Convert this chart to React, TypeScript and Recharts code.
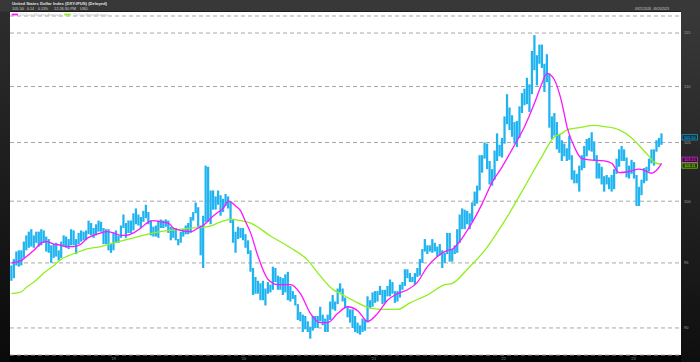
import { ComposedChart, Bar, Line, XAxis, YAxis, CartesianGrid, ReferenceLine } from "recharts";

const TITLE = "United States Dollar Index (DXY:IFUS) (Delayed)";
const QUOTE = ["105.50", "0.14", "0.13%", "12:26:30 PM", "USD"];
const DATE_RANGE = "09/21/2018 - 09/20/2023";

// week index of mid-year for each label ('19 .. '23)
const YEAR_TICKS = [40.9, 93.2, 145.4, 197.5, 249.6];
const YEAR_LABELS = ["'19", "'20", "'21", "'22", "'23"];
const PRICE_TICKS = [90, 95, 100, 105, 110, 115];

const LAST_PRICE = 105.5;
const MA50_LAST = 103.15;
const MA200_LAST = 103.11;

// weekly highs, week 0 = 09/21/2018
const HIGHS = [
  94.8, 95.3, 95.9, 96.0, 96.0, 96.7, 97.2, 97.5, 97.7, 97.2,
  97.5, 97.5, 97.7, 97.6, 97.1, 96.9, 96.4, 96.5, 96.6, 96.0,
  96.7, 97.2, 97.1, 96.9, 97.7, 97.6, 96.9, 97.4, 97.6, 97.5,
  97.6, 98.4, 98.2, 97.8, 98.1, 98.4, 98.3, 97.8, 97.7, 97.7,
  96.5, 97.4, 97.6, 97.2, 98.0, 98.9, 98.2, 98.4, 98.4, 99.0,
  99.4, 98.9, 98.7, 99.2, 99.7, 99.1, 98.4, 97.9, 98.0, 98.4,
  98.5, 98.4, 98.5, 98.4, 97.9, 97.8, 97.8, 96.9, 97.5, 97.7,
  98.0, 98.2, 98.7, 99.1, 99.9, 99.5, 98.0, 98.8, 103.0, 102.9,
  100.9, 100.9, 100.4, 100.9, 100.5, 100.2, 100.6, 100.4, 100.0, 98.5,
  97.5, 97.9, 97.8, 97.8, 97.3, 96.8, 96.0, 94.6, 93.9, 93.6,
  93.4, 93.6, 93.0, 93.5, 93.3, 94.7, 94.6, 94.0, 93.9, 93.8,
  94.1, 94.3, 93.2, 92.8, 92.5, 91.8, 91.2, 91.0, 90.9, 90.5,
  90.1, 90.9, 90.9, 90.9, 91.6, 91.0, 90.7, 91.0, 92.0, 92.5,
  92.0, 93.0, 93.4, 93.0, 92.3, 91.6, 91.4, 91.4, 90.9, 90.4,
  90.2, 90.7, 90.6, 92.4, 92.1, 92.7, 92.8, 92.8, 93.2, 92.9,
  92.9, 93.2, 93.7, 93.5, 92.8, 92.8, 93.3, 93.5, 94.5, 94.5,
  94.2, 93.9, 94.2, 94.6, 95.3, 96.1, 96.9, 96.4, 96.4, 96.9,
  96.6, 96.3, 96.5, 96.0, 95.8, 97.4, 97.4, 96.1, 96.4, 97.7,
  98.9, 99.4, 99.3, 99.2, 99.0, 99.9, 100.8, 101.3, 103.9, 103.9,
  105.0, 104.9, 103.4, 102.7, 104.3, 105.8, 104.8, 105.4, 107.3, 109.3,
  108.1, 107.4, 106.8, 106.9, 108.2, 109.4, 109.8, 110.8, 110.2, 113.3,
  114.8, 112.9, 113.9, 113.9, 112.1, 113.0, 111.2, 107.3, 107.6, 106.8,
  105.7, 105.2, 104.9, 104.5, 105.6, 103.9, 102.6, 102.3, 103.0, 103.9,
  104.7, 105.3, 105.4, 105.9, 105.1, 103.9, 103.2, 102.9, 102.1, 102.2,
  102.0, 102.2, 102.7, 103.6, 104.4, 104.7, 104.4, 103.7, 103.0, 103.5,
  103.3, 102.2, 101.2, 101.8, 102.8, 102.9, 103.6, 104.4, 104.4, 105.2,
  105.4, 105.8,
];

// weekly lows
const LOWS = [
  93.6, 93.8, 94.8, 94.7, 94.8, 95.4, 96.0, 96.2, 96.3, 96.2,
  96.6, 96.3, 96.4, 96.6, 95.9, 95.8, 95.0, 95.4, 95.5, 95.2,
  95.4, 96.3, 96.2, 96.1, 96.4, 96.4, 95.7, 96.5, 96.7, 96.8,
  96.8, 97.3, 97.2, 97.0, 97.2, 97.5, 97.5, 96.5, 96.5, 96.0,
  95.8, 96.0, 96.6, 96.6, 97.0, 97.8, 97.0, 97.4, 97.4, 97.6,
  98.1, 98.0, 97.8, 98.3, 98.6, 98.1, 97.2, 97.1, 97.1, 97.0,
  97.8, 97.8, 97.9, 97.4, 96.8, 97.0, 96.8, 96.4, 96.6, 97.1,
  97.3, 97.3, 97.4, 98.4, 99.0, 97.9, 95.6, 94.6, 98.3, 98.3,
  98.1, 99.3, 99.3, 99.7, 98.8, 99.1, 99.6, 99.4, 98.2, 96.6,
  95.8, 96.9, 97.0, 96.8, 96.2, 95.7, 94.3, 92.5, 92.6, 92.6,
  92.1, 92.1, 91.7, 92.6, 92.7, 92.9, 93.5, 92.9, 92.9, 92.5,
  92.7, 92.1, 92.0, 92.2, 91.7, 90.6, 90.5, 89.7, 89.9, 89.7,
  89.2, 89.8, 90.0, 90.0, 90.5, 90.2, 89.7, 89.7, 90.6, 91.4,
  91.3, 91.8, 92.7, 92.0, 91.5, 90.8, 90.4, 90.0, 89.7, 89.6,
  89.5, 89.7, 89.8, 90.4, 91.5, 91.6, 91.9, 92.0, 92.5, 91.8,
  91.9, 92.4, 92.4, 92.6, 91.9, 92.0, 92.3, 92.9, 93.2, 93.8,
  93.5, 93.5, 93.3, 93.9, 94.0, 95.0, 95.9, 95.7, 95.9, 95.8,
  95.9, 95.5, 95.6, 94.6, 95.0, 95.7, 95.1, 95.1, 95.7, 95.8,
  96.6, 97.7, 97.7, 98.1, 97.7, 98.3, 99.6, 99.8, 100.9, 102.4,
  103.6, 102.7, 101.4, 101.3, 101.8, 103.4, 103.8, 103.7, 104.9, 106.6,
  106.1, 105.5, 104.9, 104.6, 105.4, 107.6, 108.3, 108.4, 107.7, 109.3,
  111.5, 110.1, 112.1, 111.7, 109.5, 110.4, 106.3, 105.3, 105.6, 104.4,
  104.1, 103.4, 103.8, 103.4, 103.5, 101.8, 101.5, 101.5, 100.8, 102.6,
  102.8, 103.8, 104.3, 104.2, 103.4, 101.9, 101.9, 101.4, 100.8, 101.4,
  101.0, 100.8, 101.0, 102.3, 102.9, 103.4, 103.4, 102.0, 101.9, 102.3,
  101.9, 99.6, 99.6, 100.5, 101.5, 101.7, 102.5, 103.2, 103.0, 104.2,
  104.6, 104.8,
];

// [week, value]
const MA50 = [
  [0, 95.0], [4, 95.2], [6, 95.5], [9, 96.0], [12, 96.6], [14, 96.7], [17, 96.5], [20, 96.4],
  [22, 96.3], [25, 96.3], [28, 96.5], [30, 96.9], [33, 97.2], [36, 97.4], [38, 97.5], [41, 97.4],
  [44, 97.2], [46, 97.2], [49, 97.4], [52, 97.8], [55, 98.3], [57, 98.4], [60, 98.3], [63, 98.2],
  [65, 97.8], [68, 97.6], [72, 97.5], [75, 97.8], [77, 98.0], [80, 98.6], [83, 99.1], [85, 99.4],
  [87, 100.0], [90, 99.6], [92, 99.2], [94, 98.3], [96, 97.4], [99, 95.5], [103, 93.7], [107, 93.3],
  [112, 93.3], [116, 92.6], [120, 91.1], [124, 90.4], [127, 90.4], [131, 91.1], [135, 91.6], [139, 91.3],
  [143, 90.5], [147, 91.1], [151, 92.1], [155, 92.6], [159, 92.9], [163, 93.5], [167, 94.7], [171, 95.5],
  [175, 96.0], [177, 96.1], [183, 97.6], [189, 99.8], [193, 101.6], [197, 102.9], [201, 104.4], [206, 106.4],
  [210, 108.5], [213, 110.3], [215, 111.2], [218, 110.6], [221, 108.5], [223, 106.4], [226, 104.6], [229, 103.6],
  [232, 103.5], [238, 103.4], [241, 103.2], [244, 102.4], [248, 102.5], [252, 102.7], [254, 102.6], [257, 102.35],
  [259, 102.6], [261, 103.2],
];

const MA200 = [
  [0, 92.6], [4, 92.75], [6, 93.1], [9, 93.5], [13, 94.2], [17, 94.8], [20, 95.3], [22, 95.5],
  [26, 95.8], [30, 96.1], [36, 96.3], [41, 96.6], [47, 96.9], [52, 97.15], [57, 97.4], [63, 97.6],
  [68, 97.7], [73, 97.8], [79, 97.9], [84, 98.3], [88, 98.5], [92, 98.4], [96, 98.2], [104, 97.15],
  [112, 96.2], [119, 95.2], [123, 94.2], [128, 93.1], [134, 92.4], [139, 91.9], [144, 91.5], [150, 91.4],
  [155, 91.4], [160, 91.9], [167, 92.5], [174, 93.3], [177, 93.4], [183, 94.5], [190, 96.0], [199, 98.7],
  [206, 101.2], [213, 103.8], [218, 105.5], [221, 105.8], [223, 106.1], [228, 106.3], [234, 106.5], [238, 106.4],
  [244, 106.1], [249, 105.4], [253, 104.5], [256, 103.8], [258, 103.3], [261, 103.1],
];

const FONT = "'Liberation Sans', Arial, sans-serif";

function YearTick({ x, payload }: any) {
  const label = YEAR_LABELS[YEAR_TICKS.indexOf(payload.value)];
  return (
    <text x={x} y={359.6} textAnchor="middle" fontSize={4} fill="#8a8a8a" fontFamily={FONT}>
      {label}
    </text>
  );
}

function PriceTick({ y, payload }: any) {
  return (
    <text x={684} y={y + 1.4} fontSize={4} fill="#a0a0a0" fontFamily={FONT}>
      {payload.value}
    </text>
  );
}

// small value tag in the right axis panel
function tag(text: string, color: string, fill: string, dy: number) {
  return (props: any) => {
    const vb = props.viewBox;
    const x = vb.x + vb.width + 1;
    const y = vb.y + dy;
    return (
      <g>
        <rect x={x} y={y - 2.6} width={15.6} height={5.2} fill={fill} stroke={color} strokeWidth={0.6} />
        <text x={x + 7.8} y={y + 1.4} textAnchor="middle" fontSize={3.8} fill={color} fontFamily={FONT}>
          {text}
        </text>
      </g>
    );
  };
}

export default function App() {
  const bars = HIGHS.map((h, i) => ({ i, range: [LOWS[i], h] }));
  const ma50 = MA50.map(([i, v]) => ({ i, v }));
  const ma200 = MA200.map(([i, v]) => ({ i, v }));

  return (
    <div
      style={{
        position: "absolute",
        left: 0,
        top: 0,
        width: 700,
        height: 362,
        background: "#000",
        overflow: "hidden",
        fontFamily: FONT,
      }}
    >
      <div style={{ position: "absolute", left: 0, top: 0, width: 10, height: 362, background: "linear-gradient(#2e2e2e, #0a0a0a)" }} />
      <div style={{ position: "absolute", left: 681, top: 0, width: 19, height: 362, background: "linear-gradient(#3a3a3a, #0e0e0e)" }} />
      <div style={{ position: "absolute", left: 10, top: 11.5, width: 671, height: 343.5, background: "#fff" }} />

      <div style={{ position: "absolute", left: 0, top: 0 }}>
        <ComposedChart width={700} height={362} data={bars} margin={{ top: 16, right: 0, bottom: 0, left: 10 }}>
          <CartesianGrid vertical={false} stroke="#a8a8a8" strokeDasharray="4 3" />
          <XAxis
            dataKey="i"
            type="number"
            domain={[-0.6, 268.8]}
            allowDataOverflow
            ticks={YEAR_TICKS}
            tick={<YearTick />}
            axisLine={false}
            tickLine={false}
            height={7}
          />
          <YAxis
            orientation="right"
            scale="log"
            domain={[88, 116.64]}
            allowDataOverflow
            ticks={PRICE_TICKS}
            tick={<PriceTick />}
            axisLine={false}
            tickLine={false}
            width={19}
          />
          <Bar dataKey="range" fill="#1fb3f0" barSize={3} isAnimationActive={false} />
          <Line data={ma200} dataKey="v" type="monotone" stroke="#8ef01c" strokeWidth={1.3} dot={false} isAnimationActive={false} />
          <Line data={ma50} dataKey="v" type="monotone" stroke="#ff14ff" strokeWidth={1.3} dot={false} isAnimationActive={false} />
          <ReferenceLine y={LAST_PRICE} stroke="none" label={tag(LAST_PRICE.toFixed(2), "#2cc0f5", "#0b2f3d", 0.6)} />
          <ReferenceLine y={MA50_LAST} stroke="none" label={tag(MA50_LAST.toFixed(2), "#ff3cff", "#3a0a3a", -4.2)} />
          <ReferenceLine y={MA200_LAST} stroke="none" label={tag(MA200_LAST.toFixed(2), "#9cf028", "#263a08", 1.2)} />
        </ComposedChart>
      </div>

      <svg width={700} height={20} style={{ position: "absolute", left: 0, top: 0 }}>
        <rect x={0} y={0} width={700} height={11.5} fill="#383838" />
        <text x={12} y={4.6} fontSize={4.2} fontWeight="bold" fill="#e2e2e2" textLength={95} lengthAdjust="spacingAndGlyphs">
          {TITLE}
        </text>
        <text x={12} y={9.8} fontSize={4} fill="#d0d0d0" textLength={12} lengthAdjust="spacingAndGlyphs">{QUOTE[0]}</text>
        <text x={27} y={9.8} fontSize={4} fill="#d0d0d0" textLength={7} lengthAdjust="spacingAndGlyphs">{QUOTE[1]}</text>
        <text x={38} y={9.8} fontSize={4} fill="#d0d0d0" textLength={10} lengthAdjust="spacingAndGlyphs">{QUOTE[2]}</text>
        <text x={54} y={9.8} fontSize={4} fill="#d0d0d0" textLength={22} lengthAdjust="spacingAndGlyphs">{QUOTE[3]}</text>
        <text x={80} y={9.8} fontSize={4} fill="#d0d0d0" textLength={8} lengthAdjust="spacingAndGlyphs">{QUOTE[4]}</text>
        <text x={635} y={10} fontSize={3.8} fill="#d0d0d0" textLength={34} lengthAdjust="spacingAndGlyphs">
          {DATE_RANGE}
        </text>
        <rect x={11.7} y={13.6} width={6.3} height={1.8} fill="#ff14ff" />
        <text x={20} y={15.9} fontSize={3.8} fill="#c4c4c4" textLength={42} lengthAdjust="spacingAndGlyphs">
          50 Day Moving Average
        </text>
        <rect x={64.2} y={13.6} width={6.6} height={1.8} fill="#8ef01c" />
        <text x={73} y={15.9} fontSize={3.8} fill="#c4c4c4" textLength={35} lengthAdjust="spacingAndGlyphs">
          200 Day Moving Average
        </text>
      </svg>
    </div>
  );
}
